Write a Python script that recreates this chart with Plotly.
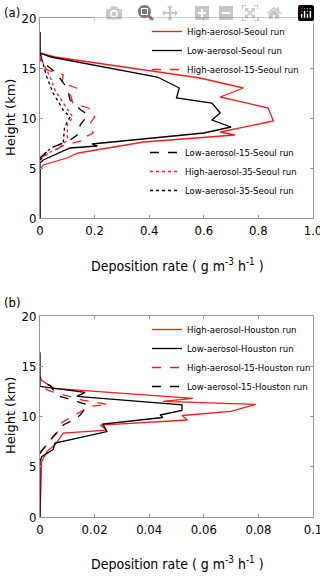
import plotly.graph_objects as go
from plotly.subplots import make_subplots

# ---- panel (a): Seoul runs ----
h_high_seoul = [0, 4.8, 5.3, 6.0, 6.5, 7.6, 8.3, 8.6, 9.7, 11.0, 12.1, 13.0, 14.0, 16.1, 16.5, 18.6]
high_seoul = [0, 0, 0.012, 0.098, 0.14, 0.38, 0.714, 0.66, 0.855, 0.836, 0.66, 0.745, 0.586, 0.055, 0, 0]

h_low_seoul = [0, 5.5, 5.8, 7.0, 7.2, 7.4, 8.5, 9.1, 9.8, 10.5, 11.5, 12.0, 13.0, 14.1, 16.1, 16.5, 18.6]
low_seoul = [0, 0, 0.012, 0.11, 0.21, 0.19, 0.60, 0.70, 0.63, 0.66, 0.63, 0.50, 0.51, 0.43, 0.04, 0, 0]

h_high15_seoul = [6.0, 7.3, 7.8, 8.1, 8.5, 9.3, 10.1, 10.5, 11.0, 11.5, 12.5, 13.0, 13.5, 14.3, 15.0, 16.5]
high15_seoul = [0, 0.09, 0.165, 0.165, 0.195, 0.18, 0.2, 0.2, 0.177, 0.12, 0.11, 0.135, 0.08, 0.085, 0.005, 0]

h_low15_seoul = [6.0, 7.0, 7.8, 8.5, 9.3, 10.3, 10.8, 11.8, 13.0, 14.6, 15.6, 16.5]
low15_seoul = [0, 0.04, 0.11, 0.147, 0.147, 0.176, 0.15, 0.11, 0.1, 0.055, 0.01, 0]

h_high35_seoul = [5.8, 6.5, 7.0, 7.8, 9.3, 10.1, 11.5, 12.8, 14.1, 16.0, 16.5]
high35_seoul = [0, 0.03, 0.07, 0.1, 0.1, 0.12, 0.085, 0.055, 0.037, 0.003, 0]

h_low35_seoul = [5.8, 6.5, 7.0, 7.5, 9.1, 10.1, 10.8, 12.5, 14.1, 15.5, 16.5]
low35_seoul = [0, 0.02, 0.04, 0.085, 0.09, 0.11, 0.085, 0.048, 0.025, 0.01, 0]

# ---- panel (b): Houston runs ----
h_high_houston = [0, 5.5, 6.5, 7.2, 7.85, 8.35, 8.65, 9.15, 9.65, 10.1, 10.5, 11.2, 11.5, 11.8, 12.8, 13.6, 14.0]
high_houston = [0, 0.0006, 0.0025, 0.0055, 0.0073, 0.0085, 0.0245, 0.022, 0.054, 0.052, 0.07, 0.079, 0.045, 0.056, 0.005, 0.0006, 0]

h_low_houston = [0, 5.5, 6.0, 6.7, 7.35, 8.5, 9.25, 9.9, 10.15, 10.6, 11.15, 12.0, 12.4, 13.0, 16.4]
low_houston = [0, 0, 0.0006, 0.0048, 0.0055, 0.0245, 0.023, 0.045, 0.044, 0.052, 0.052, 0.0135, 0.0165, 0, 0]

h_high15_houston = [6.5, 7.0, 8.0, 8.8, 9.4, 10.0, 10.5, 11.0, 11.2, 11.6, 12.0, 12.5, 13.0]
high15_houston = [0, 0.002, 0.005, 0.0075, 0.008, 0.012, 0.015, 0.018, 0.025, 0.016, 0.011, 0.004, 0]

h_low15_houston = [6.3, 6.7, 8.0, 9.15, 9.85, 10.15, 11.15, 12.1, 13.1, 13.5]
low15_houston = [0, 0.001, 0.0048, 0.0085, 0.0135, 0.0147, 0.0176, 0.0062, 0.0037, 0]

y_ticks = [0, 5, 10, 15, 20]
xa_ticks = [0, 0.2, 0.4, 0.6, 0.8, 1.0]
xa_text = ["0", "0.2", "0.4", "0.6", "0.8", "1.0"]
xb_ticks = [0, 0.02, 0.04, 0.06, 0.08, 0.1]
xb_text = ["0", "0.02", "0.04", "0.06", "0.08", "0.1"]

FONT = "DejaVu Sans Condensed, Roboto"
RED = "#ff1a1a"
GREY = "#999999"

W, H = 320, 576


def fx(px):
    return px / W


def fy(py):
    return 1 - py / H


fig = make_subplots(rows=2, cols=1)


def add(x, y, name, color, dash, row, legend):
    fig.add_trace(
        go.Scatter(
            x=x, y=y, name=name, mode="lines",
            line=dict(color=color, dash=dash, width=1.3),
            legend=legend,
        ),
        row=row, col=1,
    )


add(high_seoul, h_high_seoul, "High-aerosol-Seoul run", RED, "solid", 1, "legend")
add(low_seoul, h_low_seoul, "Low-aerosol-Seoul run", "black", "solid", 1, "legend")
add(high15_seoul, h_high15_seoul, "High-aerosol-15-Seoul run", RED, "dash", 1, "legend")
add(low15_seoul, h_low15_seoul, "Low-aerosol-15-Seoul run", "black", "dash", 1, "legend2")
add(high35_seoul, h_high35_seoul, "High-aerosol-35-Seoul run", RED, "dot", 1, "legend2")
add(low35_seoul, h_low35_seoul, "Low-aerosol-35-Seoul run", "black", "dot", 1, "legend2")

add(high_houston, h_high_houston, "High-aerosol-Houston run", RED, "solid", 2, "legend3")
add(low_houston, h_low_houston, "Low-aerosol-Houston run", "black", "solid", 2, "legend3")
add(high15_houston, h_high15_houston, "High-aerosol-15-Houston run", RED, "dash", 2, "legend3")
add(low15_houston, h_low15_houston, "Low-aerosol-15-Houston run", "black", "dash", 2, "legend3")

axis_style = dict(
    showline=True, linecolor=GREY, linewidth=1, mirror="ticks",
    ticks="inside", ticklen=3, tickcolor=GREY,
    showgrid=False, zeroline=False, automargin=False, ticklabeloverflow="allow",
    tickfont=dict(family=FONT, size=13, color="black"),
)
fig.update_xaxes(axis_style)
fig.update_yaxes(axis_style)

dom_x = [fx(40), fx(313)]
dom_a = [fy(218), fy(18)]
dom_b = [fy(517), fy(316)]
fig.update_xaxes(range=[0, 1], tickvals=xa_ticks, ticktext=xa_text, domain=dom_x, row=1, col=1)
fig.update_xaxes(range=[0, 0.1], tickvals=xb_ticks, ticktext=xb_text, domain=dom_x, row=2, col=1)
fig.update_yaxes(range=[0, 20], tickvals=y_ticks, domain=dom_a, row=1, col=1)
fig.update_yaxes(range=[0, 20], tickvals=y_ticks, domain=dom_b, row=2, col=1)

leg = dict(font=dict(family=FONT, size=9.5, color="black"), bgcolor="rgba(0,0,0,0)",
           xanchor="right", yanchor="top", itemwidth=30, tracegroupgap=0)

xtitle = "Deposition rate ( g m<sup>-3</sup> h<sup>-1</sup> )"
title_font = dict(family=FONT, size=14, color="black")
label_font = dict(family=FONT, size=13, color="black")
ytitle_font = dict(family="DejaVu Sans", size=13, color="black")


def note(text, x, y, font, angle=0, xanchor="center"):
    return dict(text=text, x=fx(x), y=fy(y), xref="paper", yref="paper",
                xanchor=xanchor, yanchor="middle", showarrow=False, font=font, textangle=angle)


fig.update_layout(
    width=W, height=H,
    margin=dict(l=0, r=0, t=0, b=0),
    plot_bgcolor="white", paper_bgcolor="white",
    showlegend=True,
    legend=dict(leg, x=fx(304), y=fy(17)),
    legend2=dict(leg, x=fx(302), y=fy(138)),
    legend3=dict(leg, x=fx(316), y=fy(315)),
    annotations=[
        note("(a)", 2, 12, label_font, xanchor="left"),
        note("(b)", 2, 302, label_font, xanchor="left"),
        note(xtitle, 177, 265, title_font),
        note(xtitle, 177, 563, title_font),
        note("Height (km)", 10, 118, ytitle_font, angle=-90),
        note("Height (km)", 10, 416, ytitle_font, angle=-90),
    ],
)

# drop the default 8px body margin so the 320x576 figure fills the window
fig.write_html(
    "out.html",
    post_script="document.body.style.margin='0';document.body.style.overflow='hidden';",
)
